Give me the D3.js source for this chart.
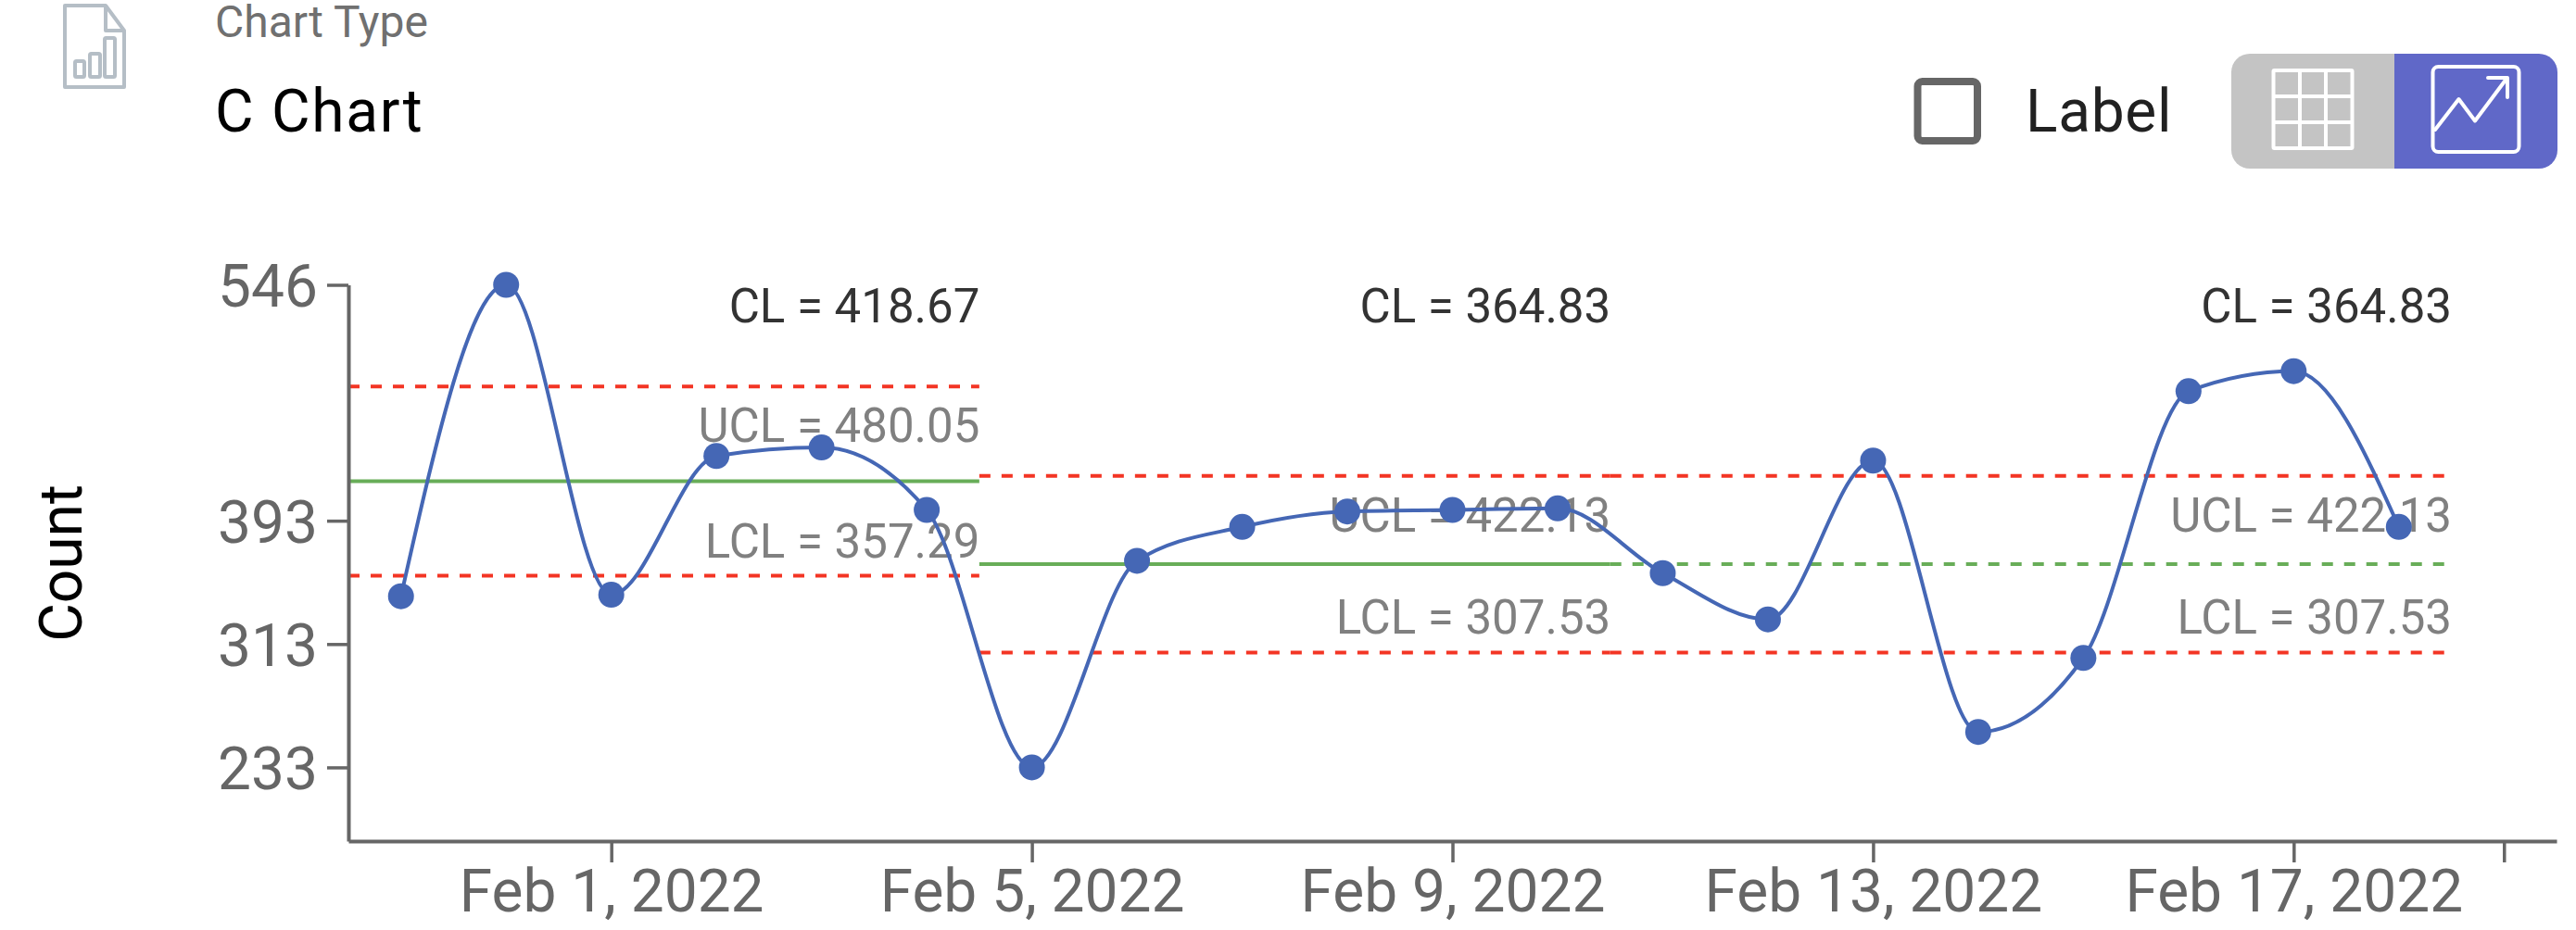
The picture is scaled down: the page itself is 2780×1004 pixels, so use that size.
<!DOCTYPE html>
<html><head><meta charset="utf-8">
<script src="https://cdn.jsdelivr.net/npm/d3@7"></script>
<style>
html,body{margin:0;padding:0;background:#fff;}
svg{display:block;font-family:Roboto,sans-serif;}
</style></head><body>
<svg id="c" width="2780" height="1004"></svg>
<script>
const dates = ["2022-01-30","2022-01-31","2022-02-01","2022-02-02","2022-02-03","2022-02-04","2022-02-05","2022-02-06","2022-02-07","2022-02-08","2022-02-09","2022-02-10","2022-02-11","2022-02-12","2022-02-13","2022-02-14","2022-02-15","2022-02-16","2022-02-17","2022-02-18"];
const counts = [344,546,345,435,440.5,400,233,367,389,399,400,401,359,329,432,256,304,477,490,389];
const yTicks = [233,313,393,546];
const xTickDates = ["2022-02-01","2022-02-05","2022-02-09","2022-02-13","2022-02-17","2022-02-19"];
const xTickLabels = ["Feb 1, 2022","Feb 5, 2022","Feb 9, 2022","Feb 13, 2022","Feb 17, 2022",""];
const segStart = ["2022-01-29T12:00Z","2022-02-04T12:00Z","2022-02-10T12:00Z"];
const segEnd = ["2022-02-04T12:00Z","2022-02-10T12:00Z","2022-02-18T12:00Z"];
const cl = [418.67,364.83,364.83];
const ucl = [480.05,422.13,422.13];
const lcl = [357.29,307.53,307.53];
const clDashed = [false,false,true];

const d = s => new Date(s.length===10 ? s+"T00:00Z" : s);
const svg = d3.select("#c");
const x = d3.scaleUtc().domain([d("2022-01-29T12:00Z"),d("2022-02-19T12:00Z")]).range([376,2759]);
const y = d3.scaleLinear().domain([185.2,546]).range([908,307.5]);

const AX="#666666", RED="#f33524", GREEN="#68ad58", BLUE="#4567b5";

// header
const hdr = svg.append("g");
hdr.append("path").attr("d","M70 6H114L134 33V94H70Z M114 6V33H134").attr("fill","none").attr("stroke","#b5bec6").attr("stroke-width",4).attr("stroke-linejoin","round");
[[81,66,10,17],[97,58,11,25],[113,41,11,42]].forEach(r=>hdr.append("rect").attr("x",r[0]).attr("y",r[1]).attr("width",r[2]).attr("height",r[3]).attr("rx",1.5).attr("fill","none").attr("stroke","#b5bec6").attr("stroke-width",4));
hdr.append("text").attr("x",232).attr("y",40).attr("font-size",48).attr("fill","#707070").text("Chart Type");
hdr.append("text").attr("x",232).attr("y",141.5).attr("font-size",64).attr("letter-spacing",1.7).attr("fill","#000").text("C Chart");
hdr.append("rect").attr("x",2069.5).attr("y",88).attr("width",64.5).attr("height",64).attr("rx",5).attr("fill","#fff").attr("stroke","#666").attr("stroke-width",8);
hdr.append("text").attr("x",2186).attr("y",141.5).attr("font-size",64).attr("letter-spacing",0.7).attr("fill","#212121").text("Label");
hdr.append("path").attr("d","M2428 58H2584V182H2428A20 20 0 0 1 2408 162V78A20 20 0 0 1 2428 58Z").attr("fill","#c4c4c4");
hdr.append("path").attr("d","M2584 58H2740A20 20 0 0 1 2760 78V162A20 20 0 0 1 2740 182H2584Z").attr("fill","#6068c8");
const grid = hdr.append("g").attr("fill","none").attr("stroke","#fff").attr("stroke-width",4);
grid.append("rect").attr("x",2453.5).attr("y",76).attr("width",85).attr("height",84).attr("rx",1);
grid.append("path").attr("d","M2482 76V160M2510 76V160M2453.5 104H2538.5M2453.5 132H2538.5");
const chartIc = hdr.append("g").attr("fill","none").attr("stroke","#fff").attr("stroke-width",4).attr("stroke-linecap","round").attr("stroke-linejoin","round");
chartIc.append("rect").attr("x",2625.5).attr("y",72).attr("width",93).attr("height",92).attr("rx",6);
chartIc.append("path").attr("d","M2628 140L2653.5 107L2671 130.5L2705 85M2685 84H2706V105");

// control-limit text, under the marks
const labels = svg.append("g").attr("font-size",51).attr("text-anchor","end");
cl.forEach((v,i)=>{
  const xe = x(d(segEnd[i]))+0.5;
  labels.append("text").attr("x",xe).attr("y",348).attr("fill","#333").text(`CL = ${v.toFixed(2)}`);
  labels.append("text").attr("x",xe).attr("y",y(ucl[i])+60).attr("fill","#808080").text(`UCL = ${ucl[i].toFixed(2)}`);
  labels.append("text").attr("x",xe).attr("y",y(lcl[i])-20).attr("fill","#808080").text(`LCL = ${lcl[i].toFixed(2)}`);
});

// control lines
const lines = svg.append("g").attr("fill","none");
cl.forEach((v,i)=>{
  const a=x(d(segStart[i])), b=x(d(segEnd[i]));
  [ucl[i],lcl[i]].forEach(u=>lines.append("line").attr("x1",a).attr("x2",b).attr("y1",y(u)).attr("y2",y(u)).attr("stroke",RED).attr("stroke-width",4).attr("stroke-dasharray","12 12"));
  lines.append("line").attr("x1",a).attr("x2",b).attr("y1",y(v)).attr("y2",y(v)).attr("stroke",GREEN).attr("stroke-width",4).attr("stroke-dasharray",clDashed[i]?"12 12":null);
});

// axes
const axY = svg.append("g").attr("transform","translate(376,0)").call(d3.axisLeft(y).tickValues(yTicks).tickSize(23).tickSizeOuter(0).tickPadding(10).tickFormat(d3.format("d")));
const axX = svg.append("g").attr("transform","translate(0,908)").call(d3.axisBottom(x).tickValues(xTickDates.map(d)).tickSize(23).tickSizeOuter(0).tickPadding(8).tickFormat((t,i)=>xTickLabels[i]));
[axY,axX].forEach(a=>{
  a.attr("font-family","Roboto,sans-serif").attr("font-size",64);
  a.selectAll("path").attr("stroke",AX).attr("stroke-width",4);
  a.selectAll("line").attr("stroke",AX).attr("stroke-width",3.5);
  a.selectAll("text").attr("fill",AX);
});
axY.selectAll("text").attr("dy","0.36em");
svg.append("text").attr("transform","translate(88,608) rotate(-90)").attr("text-anchor","middle").attr("font-size",64).attr("fill","#000").text("Count");

// series
const pts = dates.map((s,i)=>({t:d(s),v:counts[i]}));
svg.append("path").datum(pts).attr("fill","none").attr("stroke",BLUE).attr("stroke-width",4)
  .attr("d",d3.line().x(p=>x(p.t)).y(p=>y(p.v)).curve(d3.curveMonotoneX));
svg.append("g").selectAll("circle").data(pts).join("circle").attr("cx",p=>x(p.t)).attr("cy",p=>y(p.v)).attr("r",14).attr("fill",BLUE);
</script>
</body></html>
